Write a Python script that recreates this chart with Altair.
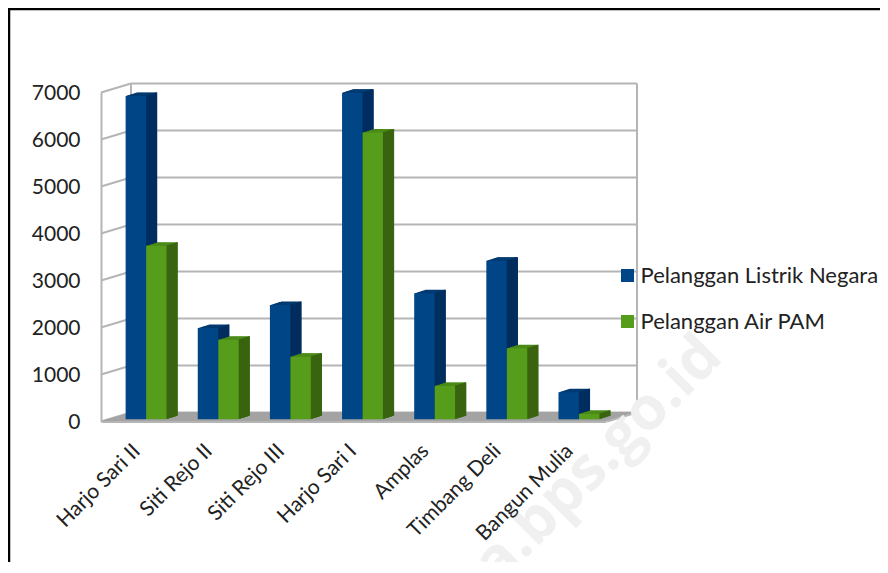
import altair as alt
import pandas as pd

categories = ["Harjo Sari II", "Siti Rejo II", "Siti Rejo III", "Harjo Sari I", "Amplas", "Timbang Deli", "Bangun Mulia"]
listrik = [6880, 1940, 2430, 6950, 2680, 3375, 575]
air = [3690, 1690, 1330, 6100, 710, 1510, 115]
series_names = ["Pelanggan Listrik Negara", "Pelanggan Air PAM"]
front_colors = ["#004586", "#579d1c"]
top_colors = ["#003a70", "#4a8a17"]
side_colors = ["#012e5f", "#3a6410"]
grid_values = [0, 1000, 2000, 3000, 4000, 5000, 6000, 7000]

FONT = "Lato"
GRID = "#b5b5b5"
W, H = 505, 329

df = pd.DataFrame({"category": categories * 2,
                   "series": [series_names[0]] * 7 + [series_names[1]] * 7,
                   "value": listrik + air})
grid = pd.DataFrame({"value": grid_values})

xenc = alt.X("category:N", sort=categories,
             scale=alt.Scale(domain=categories, paddingInner=0, paddingOuter=0),
             axis=alt.Axis(title=None, labelAngle=315, labelAlign="right", labelBaseline="middle",
                           labelFont=FONT, labelFontSize=21, labelColor="#222222", labelPadding=26,
                           ticks=False, domainColor=GRID, domainWidth=2, grid=False, labelOverlap=False,
                           zindex=1))
yscale = alt.Scale(domain=[0, 7000], nice=False)
yaxis = alt.Axis(title=None, values=grid_values, format="d", labelFont=FONT, labelFontSize=21,
                 labelColor="#222222", labelPadding=21, labelOffset=1, ticks=False, domainColor=GRID,
                 domainWidth=2, grid=False)
yenc = alt.Y("value:Q", scale=yscale, axis=yaxis)
y2 = alt.Y2("value:Q")

layers = []

# back wall
layers.append(alt.Chart(grid).mark_rule(color=GRID, strokeWidth=2, yOffset=-9).encode(
    x=alt.value(30), x2=alt.value(536), y=yenc))
layers.append(alt.Chart(grid).mark_rule(color=GRID, strokeWidth=2, y2Offset=-9).encode(
    x=alt.value(0), x2=alt.value(30), y=yenc, y2=y2))
wall = pd.DataFrame({"value": [0], "b": [7000]})
layers.append(alt.Chart(wall).mark_rule(color=GRID, strokeWidth=2, yOffset=-9, y2Offset=-9).encode(
    x=alt.value(30), y=yenc, y2="b:Q"))
layers.append(alt.Chart(wall).mark_rule(color=GRID, strokeWidth=2, yOffset=-9, y2Offset=-9).encode(
    x=alt.value(536), y=yenc, y2="b:Q"))

# floor
zero = pd.DataFrame({"value": [0]})
for i in range(18):
    layers.append(alt.Chart(zero).mark_rule(color="#a3a3a3", strokeWidth=1, yOffset=-0.5 * i - 0.5).encode(
        x=alt.value(1 + i * 30 / 18), x2=alt.value(505 + i * 30 / 18), y=yenc))
layers.append(alt.Chart(zero).mark_rule(color=GRID, strokeWidth=2, y2Offset=-9).encode(
    x=alt.value(506), x2=alt.value(536), y=yenc, y2=y2))

# watermark
layers.append(alt.Chart(pd.DataFrame({"t": ["data.bps.go.id"]})).mark_text(
    font="Open Sans", fontWeight="bold", fontSize=60, angle=315, align="right", baseline="middle", color="#f0f0f0"
).encode(text="t:N", x=alt.value(611), y=alt.value(254)))

# bars
BW = 20.4
centers = [-1.25, 19.25]
for s in range(2):
    sub = df[df["series"] == series_names[s]]
    base = alt.Chart(sub)
    for i in range(1, 12):
        layers.append(base.mark_bar(size=BW, color=top_colors[s], xOffset=centers[s] + i, yOffset=-2.2 - i * 0.32).encode(
            x=xenc, y=yenc))
    for i in range(1, 12):
        layers.append(base.mark_bar(size=1.6, color=side_colors[s], xOffset=centers[s] + BW / 2 + i - 0.6, yOffset=-2.2 - i * 0.32).encode(
            x=xenc, y=yenc))
    layers.append(base.mark_bar(size=BW, xOffset=centers[s], yOffset=-2.2).encode(
        x=xenc, y=yenc,
        color=alt.Color("series:N", scale=alt.Scale(domain=series_names, range=front_colors),
                        legend=alt.Legend(title=None, orient="none", legendX=515.5, legendY=172, symbolType="square",
                                          symbolSize=170, symbolStrokeWidth=0, labelFont=FONT, labelFontSize=22,
                                          labelColor="#222222", rowPadding=24, labelOffset=2, labelLimit=400, padding=0))))

# page frame
one = pd.DataFrame({"value": [0]})
layers.append(alt.Chart(one).mark_rule(color="#000000", strokeWidth=2.5).encode(
    x=alt.value(-92), y=alt.value(-83.5), y2=alt.value(480)))
layers.append(alt.Chart(one).mark_rule(color="#000000", strokeWidth=2.5).encode(
    x=alt.value(-93), x2=alt.value(780), y=alt.value(-83.5)))

chart = alt.layer(*layers).properties(
    width=W, height=H,
    padding={"left": 93, "top": 84.5, "right": 274, "bottom": 140},
    autosize=alt.AutoSizeParams(type="none"),
).configure_view(stroke=None).configure_axis(labelFontWeight="normal")

chart.save("out.html", embed_options={"renderer": "svg", "actions": False})
